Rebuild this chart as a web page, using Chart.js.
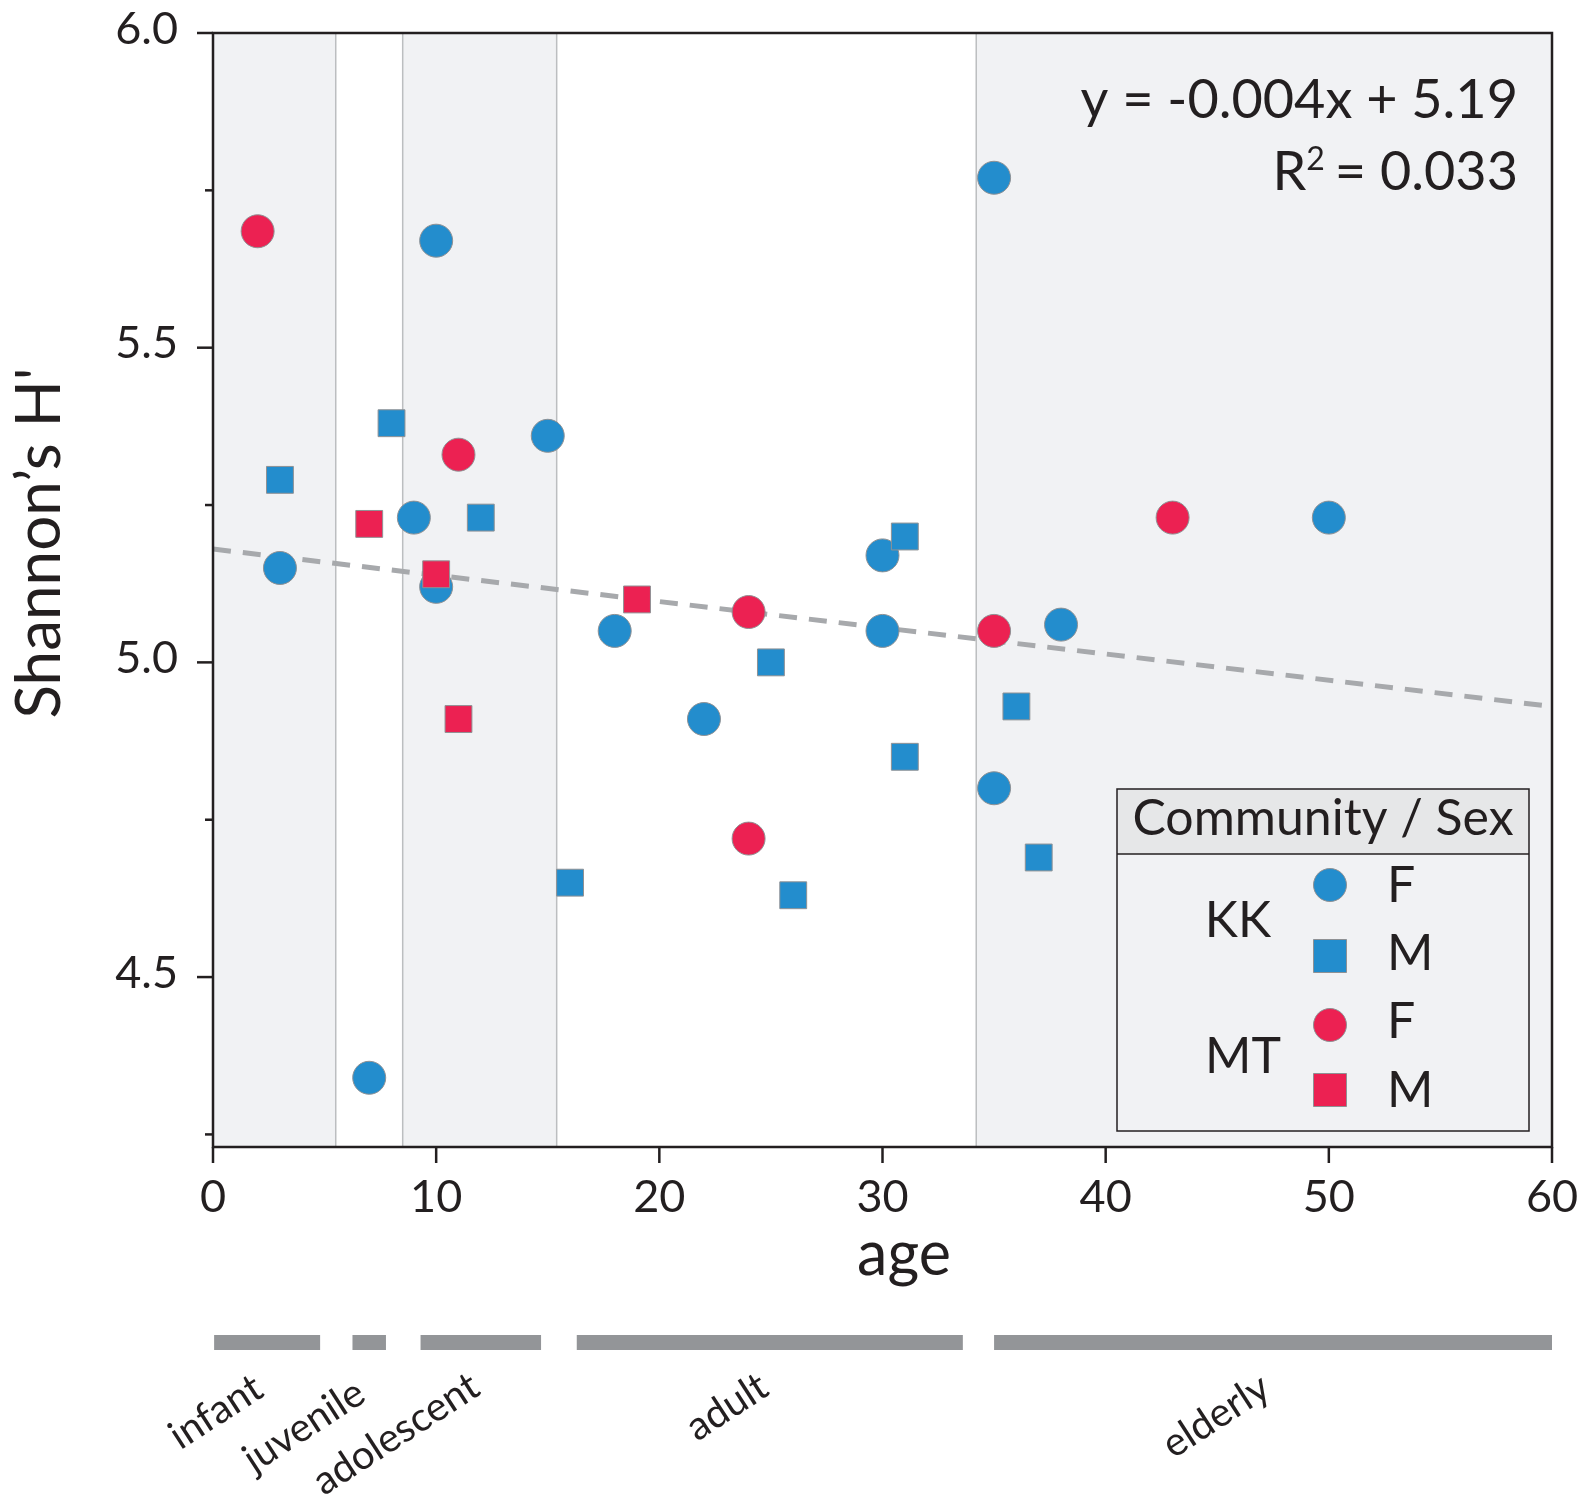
<!DOCTYPE html>
<html>
<head>
<meta charset="utf-8">
<style>
html,body{margin:0;padding:0;background:#ffffff;}
#wrap{width:1588px;height:1502px;position:relative;}
</style>
<script src="https://cdn.jsdelivr.net/npm/chart.js@4.4.0/dist/chart.umd.min.js"></script>
</head>
<body>
<div id="wrap"><canvas id="c" width="1588" height="1502"></canvas></div>
<script>
// ---------- data ----------
const kkFemaleAge = [3, 7, 9, 10, 10, 15, 18, 22, 30, 30, 35, 35, 38, 50];
const kkFemaleH   = [5.15, 4.34, 5.23, 5.67, 5.12, 5.36, 5.05, 4.91, 5.17, 5.05, 5.77, 4.80, 5.06, 5.23];
const kkMaleAge   = [3, 8, 12, 16, 25, 26, 31, 31, 36, 37];
const kkMaleH     = [5.29, 5.38, 5.23, 4.65, 5.00, 4.63, 5.20, 4.85, 4.93, 4.69];
const mtFemaleAge = [2, 11, 24, 24, 35, 43];
const mtFemaleH   = [5.685, 5.33, 5.08, 4.72, 5.05, 5.23];
const mtMaleAge   = [7, 10, 11, 19];
const mtMaleH     = [5.22, 5.14, 4.91, 5.10];
const trendAge    = [0, 60];
const trendH      = [5.18, 4.93];

const xTicks = [0, 10, 20, 30, 40, 50, 60];
const yTickLabels = ['4.5', '5.0', '5.5', '6.0'];

// shaded life-stage bands on the plot and their dividers (ages)
const bandStart = [0, 8.5, 34.2];
const bandEnd   = [5.5, 15.4, 60];
const dividers  = [5.5, 8.5, 15.4, 34.2];

// life-stage bars under the axis (ages)
const stageNames = ['infant', 'juvenile', 'adolescent', 'adult', 'elderly'];
const stageStart = [0.05, 6.25, 9.3, 16.3, 35.0];
const stageEnd   = [4.8, 7.75, 14.7, 33.6, 60.0];

const equationText = 'y = -0.004x + 5.19';
const r2Text = '= 0.033';
const legendTitle = 'Community / Sex';

// ---------- styles ----------
const FONT = 'Lato, "Open Sans", sans-serif';
const INK = '#231f20';
const BLUE = '#238dcd';
const RED = '#ec2152';
const EDGE = '#8f9194';
const BAND = '#f1f2f4';

function zip(a, b) { return a.map((v, i) => ({x: v, y: b[i]})); }

const bandsPlugin = {
  id: 'bands',
  beforeDatasetsDraw(chart) {
    const {ctx, chartArea: {top, bottom}, scales: {x}} = chart;
    ctx.save();
    ctx.fillStyle = BAND;
    bandStart.forEach((s, i) => {
      const x0 = x.getPixelForValue(s), x1 = x.getPixelForValue(bandEnd[i]);
      ctx.fillRect(x0, top, x1 - x0, bottom - top);
    });
    ctx.strokeStyle = '#bcbec0';
    ctx.lineWidth = 1.5;
    dividers.forEach(v => {
      const px = x.getPixelForValue(v);
      ctx.beginPath(); ctx.moveTo(px, top); ctx.lineTo(px, bottom); ctx.stroke();
    });
    ctx.restore();
  }
};

const overlayPlugin = {
  id: 'overlay',
  afterDraw(chart) {
    const {ctx, chartArea: {left, right, top, bottom}, scales: {x, y}} = chart;
    ctx.save();
    // frame
    ctx.strokeStyle = INK;
    ctx.lineWidth = 2.5;
    ctx.strokeRect(left, top, right - left, bottom - top);
    // y ticks (major + minor)
    y.ticks.forEach(t => {
      const v = t.value;
      const q = v * 4;
      if (Math.abs(q - Math.round(q)) > 1e-6) return;
      const major = Math.abs(v * 2 - Math.round(v * 2)) < 1e-6;
      const len = major ? 16 : 8;
      const py = y.getPixelForValue(v);
      ctx.beginPath(); ctx.moveTo(left - len, py); ctx.lineTo(left, py); ctx.stroke();
    });
    // x ticks
    x.ticks.forEach(t => {
      const px = x.getPixelForValue(t.value);
      ctx.beginPath(); ctx.moveTo(px, bottom); ctx.lineTo(px, bottom + 16); ctx.stroke();
    });

    ctx.fillStyle = INK;
    // axis titles
    ctx.font = '61px ' + FONT;
    ctx.textAlign = 'center';
    ctx.textBaseline = 'alphabetic';
    ctx.fillText('age', 904, 1275);
    ctx.save();
    ctx.translate(60, 543);
    ctx.rotate(-Math.PI / 2);
    ctx.font = '62px ' + FONT;
    ctx.fillText('Shannon\u2019s H\'', 0, 0);
    ctx.restore();

    // equation
    ctx.font = '54px ' + FONT;
    ctx.textAlign = 'right';
    ctx.fillText(equationText, 1518, 118);
    ctx.fillText(r2Text, 1518, 190);
    const w2 = ctx.measureText(r2Text).width;
    ctx.font = '32px ' + FONT;
    ctx.fillText('2', 1518 - w2 - 10, 170);
    const wsup = ctx.measureText('2').width;
    ctx.font = '54px ' + FONT;
    ctx.fillText('R', 1518 - w2 - 10 - wsup, 190);

    // legend
    const lx0 = 1117, lx1 = 1529, ly0 = 789, lyh = 854, ly1 = 1131;
    ctx.fillStyle = BAND;
    ctx.fillRect(lx0, ly0, lx1 - lx0, ly1 - ly0);
    ctx.fillStyle = '#e6e7e8';
    ctx.fillRect(lx0, ly0, lx1 - lx0, lyh - ly0);
    ctx.strokeStyle = INK;
    ctx.lineWidth = 1.5;
    ctx.strokeRect(lx0, ly0, lx1 - lx0, ly1 - ly0);
    ctx.beginPath(); ctx.moveTo(lx0, lyh); ctx.lineTo(lx1, lyh); ctx.stroke();
    ctx.fillStyle = INK;
    ctx.font = '50px ' + FONT;
    ctx.textAlign = 'center';
    ctx.fillText(legendTitle, 1323, 835);
    ctx.fillText('KK', 1238, 937);
    ctx.fillText('MT', 1243, 1073);
    ctx.textAlign = 'left';
    ctx.fillText('F', 1387, 902);
    ctx.fillText('M', 1387, 970);
    ctx.fillText('F', 1387, 1038);
    ctx.fillText('M', 1387, 1107);
    const marks = [[BLUE, 'c', 885], [BLUE, 's', 956], [RED, 'c', 1025], [RED, 's', 1090]];
    ctx.lineWidth = 1;
    ctx.strokeStyle = EDGE;
    marks.forEach(([col, shape, cy]) => {
      ctx.fillStyle = col;
      ctx.beginPath();
      if (shape === 'c') ctx.arc(1330, cy, 16.5, 0, Math.PI * 2);
      else ctx.rect(1330 - 16.5, cy - 16.5, 33, 33);
      ctx.fill(); ctx.stroke();
    });

    // life-stage bars
    ctx.fillStyle = '#939598';
    stageStart.forEach((s, i) => {
      const x0 = x.getPixelForValue(s), x1 = x.getPixelForValue(stageEnd[i]);
      ctx.fillRect(x0, 1335, x1 - x0, 15);
    });
    // life-stage labels
    const labelPos = [[216, 1412], [304, 1426], [396, 1434], [727, 1407], [1216, 1416]];
    ctx.fillStyle = INK;
    ctx.font = '40px ' + FONT;
    ctx.textAlign = 'center';
    ctx.textBaseline = 'middle';
    stageNames.forEach((n, i) => {
      ctx.save();
      ctx.translate(labelPos[i][0], labelPos[i][1]);
      ctx.rotate(-33 * Math.PI / 180);
      ctx.fillText(n, 0, 0);
      ctx.restore();
    });
    ctx.restore();
  }
};

function build() {
  const ctx = document.getElementById('c').getContext('2d');
  new Chart(ctx, {
    type: 'scatter',
    data: {
      datasets: [
        {label: 'trend', data: zip(trendAge, trendH), showLine: true, borderColor: '#a7a9ac', borderWidth: 5,
         borderDash: [18, 12], pointRadius: 0, fill: false, order: 5},
        {label: 'KK F', data: zip(kkFemaleAge, kkFemaleH), pointStyle: 'circle', pointRadius: 16.5,
         backgroundColor: BLUE, borderColor: EDGE, borderWidth: 1, order: 4},
        {label: 'KK M', data: zip(kkMaleAge, kkMaleH), pointStyle: 'rect', pointRadius: 19,
         backgroundColor: BLUE, borderColor: EDGE, borderWidth: 1, order: 3},
        {label: 'MT F', data: zip(mtFemaleAge, mtFemaleH), pointStyle: 'circle', pointRadius: 16.5,
         backgroundColor: RED, borderColor: EDGE, borderWidth: 1, order: 2},
        {label: 'MT M', data: zip(mtMaleAge, mtMaleH), pointStyle: 'rect', pointRadius: 19,
         backgroundColor: RED, borderColor: EDGE, borderWidth: 1, order: 1}
      ]
    },
    options: {
      responsive: false,
      animation: false,
      devicePixelRatio: 1,
      events: [],
      layout: {padding: {top: 33, right: 36, bottom: 0, left: 0}},
      plugins: {legend: {display: false}, tooltip: {enabled: false}},
      scales: {
        x: {
          type: 'linear', min: 0, max: 60,
          afterFit(s) { s.height = 355; },
          afterBuildTicks(s) { s.ticks = xTicks.map(v => ({value: v})); },
          grid: {display: true, drawOnChartArea: false, drawTicks: true, tickLength: 21, tickColor: 'rgba(0,0,0,0)', color: 'rgba(0,0,0,0)'},
          border: {display: false},
          ticks: {padding: 2, color: INK, font: {family: FONT, size: 45}, maxRotation: 0, autoSkip: false,
                  callback: v => String(v)}
        },
        y: {
          type: 'linear', min: 4.23, max: 6.0,
          afterFit(s) { s.width = 213; },
          grid: {display: true, drawOnChartArea: false, drawTicks: true, tickLength: 33, tickColor: 'rgba(0,0,0,0)', color: 'rgba(0,0,0,0)'},
          border: {display: false},
          ticks: {stepSize: 0.25, includeBounds: false, padding: 2, labelOffset: -4, color: INK,
                  font: {family: FONT, size: 45}, autoSkip: false,
                  callback: v => { const s = Number(v).toFixed(1); return (Math.abs(v * 2 - Math.round(v * 2)) < 1e-6 && yTickLabels.includes(s)) ? s : ''; }}
        }
      }
    },
    plugins: [bandsPlugin, overlayPlugin]
  });
}
if (document.fonts && document.fonts.load) {
  Promise.all([document.fonts.load('45px Lato')]).then(build, build);
} else { build(); }
</script>
</body>
</html>
